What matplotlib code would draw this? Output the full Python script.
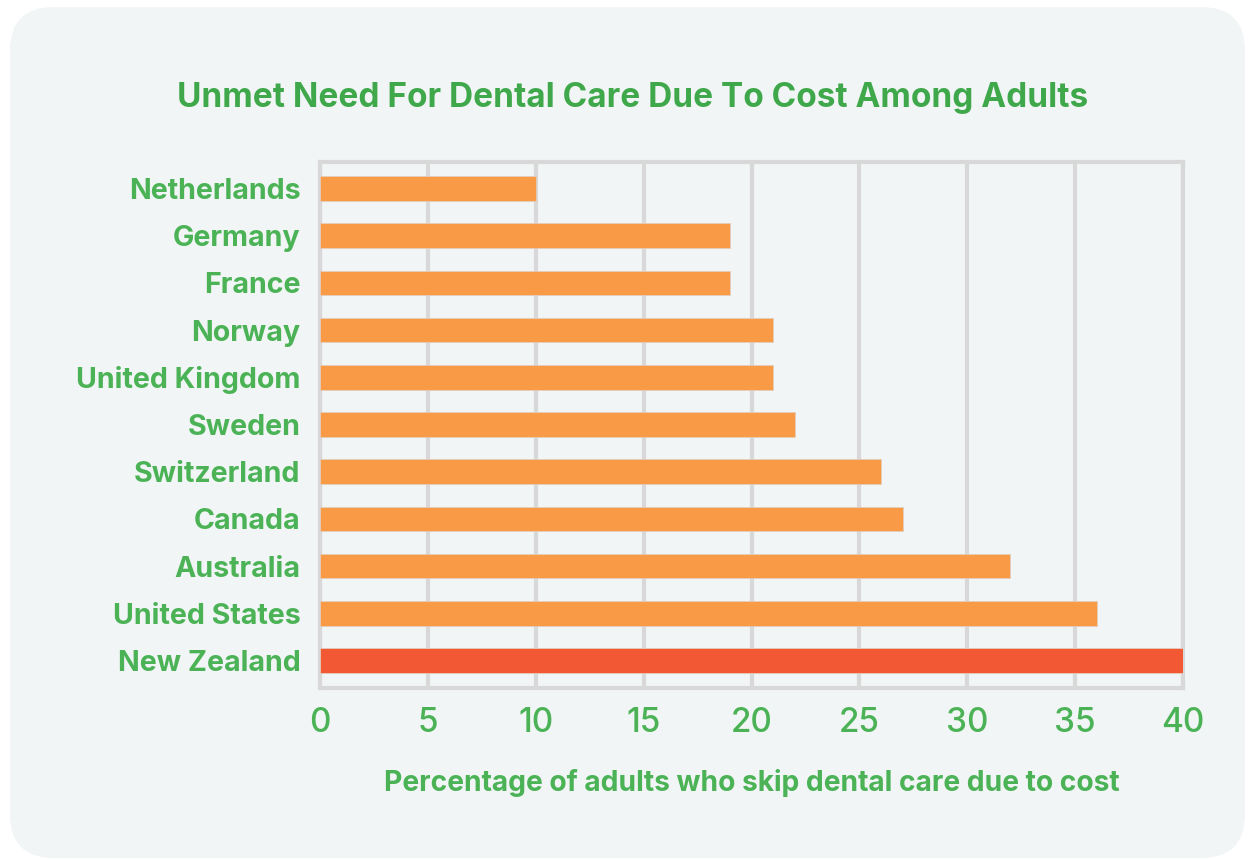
import matplotlib
matplotlib.use("Agg")
import matplotlib.pyplot as plt
from matplotlib.patches import FancyBboxPatch

countries = ["Netherlands", "Germany", "France", "Norway", "United Kingdom", "Sweden",
             "Switzerland", "Canada", "Australia", "United States", "New Zealand"]
values = [10, 19, 19, 21, 21, 22, 26, 27, 32, 36, 40]
highlight = "New Zealand"
xticks = [0, 5, 10, 15, 20, 25, 30, 35, 40]
title = "Unmet Need For Dental Care Due To Cost Among Adults"
xlabel = "Percentage of adults who skip dental care due to cost"

ORANGE = "#f99b46"
RED = "#f15833"
GREEN = "#4bb356"
TITLE_GREEN = "#3fa84b"
GRID = "#d8d8d8"
PANEL = "#f1f5f6"

plt.rcParams['font.family'] = ['Inter', 'DejaVu Sans']

W, H = 1252, 860
fig = plt.figure(figsize=(W / 100, H / 100), dpi=100)
fig.patch.set_facecolor("white")

panel = FancyBboxPatch((10 / W, 2 / H), (1245 - 10) / W, (853 - 2) / H,
                       boxstyle="round,pad=0,rounding_size=0.035",
                       transform=fig.transFigure, facecolor=PANEL, edgecolor="none",
                       mutation_aspect=W / H, zorder=-5)
fig.patches.append(panel)

x0, x1 = 320, 1183
y_top, y_bot = 162, 688
ax = fig.add_axes([x0 / W, 1 - y_bot / H, (x1 - x0) / W, (y_bot - y_top) / H])
ax.set_facecolor(PANEL)

ypos = list(range(len(countries)))
colors = [RED if c == highlight else ORANGE for c in countries]
ax.barh(ypos, values, height=0.52, color=colors, edgecolor="#e3cdbd", linewidth=0.6, zorder=3)

ax.set_xlim(0, 40)
ax.set_ylim(len(countries) - 0.42, -0.56)
ax.set_yticks(ypos)
ax.set_yticklabels(countries, fontsize=20.6, fontweight="bold", color=GREEN)
ax.set_xticks(xticks)
ax.set_xticklabels([str(t) for t in xticks], fontsize=24, fontweight="medium", color=GREEN)
ax.tick_params(axis="both", length=0)
ax.tick_params(axis="y", pad=14)
ax.tick_params(axis="x", pad=14)

ax.grid(axis="x", color=GRID, linewidth=3, zorder=1)
ax.set_axisbelow(True)
for s in ax.spines.values():
    s.set_color(GRID)
    s.set_linewidth(3)

ax.set_xlabel(xlabel, fontsize=20.3, fontweight="bold", color=GREEN, labelpad=21)

fig.text(633 / W, 1 - 98 / H, title, fontsize=24, fontweight="bold", color=TITLE_GREEN,
         ha="center", va="center")

fig.savefig("out.png", dpi=100, facecolor=fig.get_facecolor())
